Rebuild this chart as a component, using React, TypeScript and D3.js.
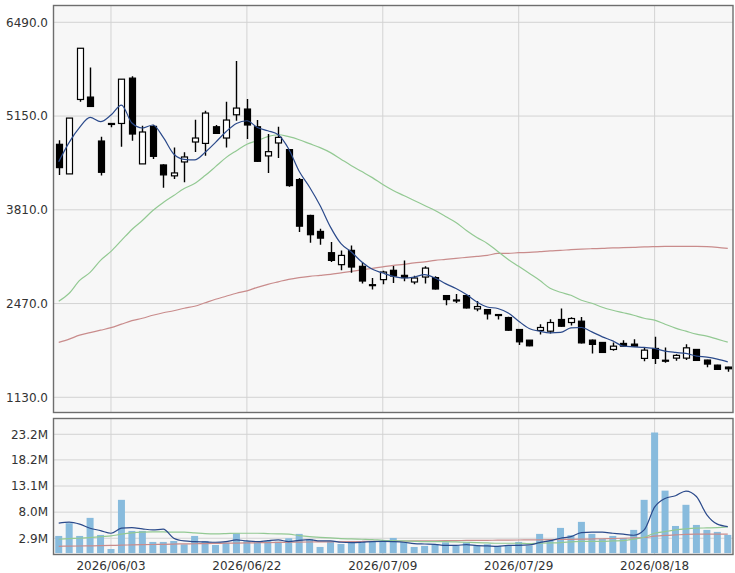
import { useRef, useEffect } from 'react';
import * as d3 from 'd3';

// trading days shown on the chart
const dates = [
  '2026/05/27', '2026/05/28', '2026/05/29', '2026/06/01', '2026/06/02', '2026/06/03', '2026/06/04', '2026/06/05',
  '2026/06/08', '2026/06/09', '2026/06/10', '2026/06/11', '2026/06/12', '2026/06/15', '2026/06/16', '2026/06/17',
  '2026/06/18', '2026/06/19', '2026/06/22', '2026/06/23', '2026/06/24', '2026/06/25', '2026/06/26', '2026/06/29',
  '2026/06/30', '2026/07/01', '2026/07/02', '2026/07/03', '2026/07/06', '2026/07/07', '2026/07/08', '2026/07/09',
  '2026/07/10', '2026/07/13', '2026/07/14', '2026/07/15', '2026/07/16', '2026/07/17', '2026/07/21', '2026/07/22',
  '2026/07/23', '2026/07/24', '2026/07/27', '2026/07/28', '2026/07/29', '2026/07/30', '2026/07/31', '2026/08/03',
  '2026/08/04', '2026/08/05', '2026/08/06', '2026/08/07', '2026/08/10', '2026/08/12', '2026/08/13', '2026/08/14',
  '2026/08/17', '2026/08/18', '2026/08/19', '2026/08/20', '2026/08/21', '2026/08/24', '2026/08/25', '2026/08/26',
  '2026/08/27',
];

const dateTicks = ['2026/06/03', '2026/06/22', '2026/07/09', '2026/07/29', '2026/08/18'];
const priceTicks = [1130, 2470, 3810, 5150, 6490];
const volumeTicks = [2.9, 8.0, 13.1, 18.2, 23.2];

const open = [
  4746, 4323, 5387, 5421, 4793, 5044, 5044, 5692, 4466, 5002, 4451, 4295, 4494, 4779, 4759, 4997, 4836, 5168, 5250, 4997,
  4580, 4765, 4670, 4242, 3729, 3501, 3197, 3026, 3230, 3002, 2735, 2812, 2945, 2873, 2778, 2849, 2841, 2584, 2515, 2584,
  2393, 2384, 2313, 2270, 2099, 1947, 2085, 2075, 2242, 2199, 2218, 1947, 1914, 1814, 1900, 1890, 1686, 1828, 1660, 1690,
  1690, 1814, 1662, 1590, 1562,
];
const high = [
  4803, 5121, 6119, 5843, 4855, 5050, 5677, 5720, 5012, 5026, 4460, 4702, 4631, 5097, 5225, 5022, 5354, 5938, 5392, 5093,
  4893, 4997, 4680, 4266, 3740, 3539, 3348, 3230, 3301, 3063, 2835, 2940, 3006, 3087, 2869, 3002, 2859, 2590, 2607, 2590,
  2507, 2390, 2318, 2280, 2105, 1950, 2175, 2246, 2399, 2275, 2279, 1955, 1920, 1914, 1947, 1961, 1837, 1994, 1843, 1747,
  1890, 1820, 1665, 1595, 1565,
];
const low = [
  4309, 4323, 5354, 5287, 4299, 4990, 4712, 4798, 4466, 4537, 4124, 4252, 4203, 4637, 4584, 4902, 4702, 5083, 4822, 4494,
  4337, 4551, 4140, 3491, 3340, 3311, 3063, 2945, 2912, 2755, 2670, 2745, 2764, 2788, 2745, 2755, 2670, 2446, 2478, 2400,
  2360, 2242, 2242, 2080, 1876, 1860, 2028, 2042, 2140, 2156, 1900, 1757, 1765, 1794, 1855, 1855, 1647, 1605, 1623, 1652,
  1662, 1650, 1558, 1525, 1495,
];
const close = [
  4413, 5121, 6119, 5287, 4346, 5044, 5677, 4893, 4922, 4574, 4309, 4337, 4565, 4836, 5193, 4902, 5093, 5264, 5022, 4503,
  4641, 4845, 4156, 3576, 3454, 3405, 3087, 3158, 2992, 2792, 2740, 2920, 2863, 2841, 2835, 2977, 2678, 2527, 2521, 2407,
  2427, 2322, 2313, 2089, 1923, 1866, 2128, 2199, 2146, 2256, 1908, 1886, 1771, 1861, 1861, 1861, 1804, 1686, 1657, 1729,
  1837, 1657, 1605, 1529, 1538,
];

// price moving averages (5 / 25 / 75 day)
const ma5 = [
  4498, 4774, 4987, 5130, 5069, 5164, 5307, 5050, 4979, 5022, 4845, 4608, 4531, 4523, 4631, 4774, 4926, 5044, 5083, 4987,
  4940, 4883, 4679, 4360, 4132, 3871, 3562, 3325, 3206, 3063, 2959, 2906, 2859, 2835, 2849, 2883, 2835, 2755, 2684, 2598,
  2493, 2421, 2399, 2336, 2218, 2114, 2075, 2051, 2057, 2122, 2128, 2065, 1994, 1937, 1861, 1851, 1843, 1828, 1790, 1771,
  1757, 1719, 1704, 1676, 1637,
];
const ma25 = [
  2503, 2617, 2802, 2916, 3087, 3215, 3372, 3529, 3657, 3800, 3914, 4014, 4114, 4185, 4299, 4427, 4556, 4655, 4748, 4798,
  4855, 4883, 4855, 4812, 4755, 4698, 4627, 4534, 4441, 4356, 4270, 4171, 4085, 4014, 3943, 3871, 3800, 3714, 3629, 3515,
  3415, 3330, 3215, 3101, 3002, 2902, 2802, 2688, 2631, 2588, 2517, 2474, 2417, 2374, 2339, 2303, 2260, 2232, 2175, 2118,
  2075, 2032, 2004, 1961, 1918,
];
const ma75 = [
  1914, 1961, 2018, 2054, 2089, 2125, 2175, 2225, 2260, 2303, 2339, 2367, 2403, 2431, 2481, 2531, 2574, 2617, 2652, 2702,
  2745, 2781, 2816, 2841, 2859, 2873, 2888, 2909, 2930, 2952, 2973, 2995, 3016, 3030, 3052, 3066, 3087, 3101, 3116, 3130,
  3144, 3158, 3187, 3187, 3197, 3201, 3211, 3223, 3230, 3240, 3248, 3254, 3258, 3265, 3268, 3273, 3280, 3284, 3287, 3287,
  3287, 3287, 3283, 3273, 3258,
];

// volume in millions of shares
const volume = [
  3.35, 5.84, 3.35, 6.88, 3.55, 0.8, 10.4, 4.33, 4.33, 2.18, 2.18, 2.37, 1.72, 3.35, 2.37, 1.59, 2.05, 3.88, 2.37, 2.05,
  2.37, 2.24, 2.9, 3.75, 2.7, 1.2, 2.24, 1.78, 2.37, 2.37, 2.24, 2.24, 2.96, 2.24, 1.2, 1.4, 1.72, 2.1, 1.59, 2.1,
  1.46, 1.72, 1.4, 1.52, 2.18, 1.46, 3.75, 2.44, 4.92, 3.49, 6.1, 3.75, 2.77, 3.35, 2.96, 4.53, 10.4, 23.55, 12.2, 5.3,
  9.43, 5.5, 4.53, 4.14, 3.55,
];
const vma5 = [
  5.85, 6.04, 5.65, 4.86, 4.39, 3.88, 4.86, 4.98, 4.73, 4.53, 4.67, 2.9, 2.37, 2.24, 2.18, 2.12, 2.24, 2.57, 2.37, 2.24,
  2.43, 2.57, 2.24, 2.5, 2.63, 2.37, 2.37, 2.12, 2.05, 2.12, 2.24, 2.3, 2.24, 2.12, 1.85, 1.78, 1.72, 1.52, 1.52, 1.65,
  1.46, 1.4, 1.33, 1.52, 1.52, 1.59, 2.04, 2.43, 2.9, 3.22, 4.0, 4.08, 4.08, 3.88, 3.69, 3.49, 4.53, 8.98, 10.67, 11.2,
  12.12, 11.06, 7.47, 5.65, 5.18,
];
const vma25 = [
  2.7, 2.83, 2.9, 3.03, 3.22, 3.35, 3.69, 3.94, 4.08, 4.14, 4.14, 4.08, 4.08, 3.94, 3.8, 3.75, 3.8, 3.88, 3.88, 3.88,
  3.8, 3.75, 3.69, 3.42, 3.22, 3.09, 2.96, 2.83, 2.77, 2.7, 2.63, 2.5, 2.43, 2.37, 2.3, 2.24, 2.24, 2.24, 2.18, 2.12,
  2.05, 1.98, 1.92, 1.92, 1.92, 1.85, 1.92, 1.98, 2.05, 2.18, 2.3, 2.3, 2.3, 2.37, 2.43, 2.7, 3.09, 3.88, 4.2, 4.53,
  4.73, 4.86, 4.92, 4.98, 5.12,
];
const vma75 = [
  1.33, 1.36, 1.39, 1.42, 1.46, 1.5, 1.55, 1.6, 1.64, 1.68, 1.72, 1.76, 1.8, 1.83, 1.86, 1.9, 1.93, 1.96, 1.99, 2.02,
  2.05, 2.08, 2.12, 2.15, 2.17, 2.19, 2.21, 2.23, 2.25, 2.27, 2.29, 2.31, 2.33, 2.35, 2.37, 2.39, 2.41, 2.43, 2.45, 2.47,
  2.48, 2.5, 2.52, 2.54, 2.56, 2.58, 2.6, 2.63, 2.66, 2.69, 2.72, 2.75, 2.8, 2.85, 2.9, 2.97, 3.05, 3.3, 3.45, 3.55,
  3.65, 3.69, 3.69, 3.69, 3.69,
];

const WIDTH = 735;
const HEIGHT = 573;
const FONT = "'DejaVu Sans', Verdana, sans-serif";
const BLUE = '#2b4a8b';
const GREEN = '#93c993';
const RED = '#c98c8c';

export default function App() {
  const svgRef = useRef<SVGSVGElement>(null);

  useEffect(() => {
    const svg = d3.select(svgRef.current);
    svg.selectAll('*').remove();

    const left = 53.5;
    const right = 733;
    const main = { top: 5.5, bottom: 412.5 };
    const vol = { top: 418.5, bottom: 554.5 };

    const x = d3.scaleBand<string>().domain(dates).range([left, right]).paddingInner(0).paddingOuter(0);
    const cx = (i: number) => (x(dates[i]) as number) + x.bandwidth() / 2;
    const y = d3.scaleLinear().domain([1130, 6490]).range([397.3, 22.3]);
    const yv = d3.scaleLinear().domain([0, 23.2]).range([553.1, 434.3]);

    // panel backgrounds
    [main, vol].forEach((p) => {
      svg.append('rect')
        .attr('x', left)
        .attr('y', p.top)
        .attr('width', right - left)
        .attr('height', p.bottom - p.top)
        .attr('fill', '#f7f7f7');
    });

    const defs = svg.append('defs');
    defs.append('clipPath').attr('id', 'clip-main').append('rect')
      .attr('x', left).attr('y', main.top).attr('width', right - left).attr('height', main.bottom - main.top);
    defs.append('clipPath').attr('id', 'clip-vol').append('rect')
      .attr('x', left).attr('y', vol.top).attr('width', right - left).attr('height', vol.bottom - vol.top);

    // grid
    const grid = svg.append('g').attr('stroke', '#d3d3d3').attr('stroke-width', 1);
    dateTicks.forEach((d) => {
      const xi = cx(dates.indexOf(d));
      [main, vol].forEach((p) => {
        grid.append('line').attr('x1', xi).attr('x2', xi).attr('y1', p.top).attr('y2', p.bottom);
      });
    });
    priceTicks.forEach((t) => {
      grid.append('line').attr('x1', left).attr('x2', right).attr('y1', y(t)).attr('y2', y(t));
    });
    volumeTicks.forEach((t) => {
      grid.append('line').attr('x1', left).attr('x2', right).attr('y1', yv(t)).attr('y2', yv(t));
    });

    // volume bars
    const barW = 7;
    const gv = svg.append('g').attr('clip-path', 'url(#clip-vol)');
    gv.selectAll('.vbar')
      .data(volume)
      .join('rect')
      .attr('class', 'vbar')
      .attr('x', (_d, i) => cx(i) - barW / 2)
      .attr('y', (d) => yv(d))
      .attr('width', barW)
      .attr('height', (d) => yv(0) - yv(d))
      .attr('fill', '#88bbdd');

    const vLine = (vals: number[]) =>
      d3.line<number>().x((_d, i) => cx(i)).y((d) => yv(d)).curve(d3.curveMonotoneX)(vals);
    [
      { vals: vma75, color: RED },
      { vals: vma25, color: GREEN },
      { vals: vma5, color: BLUE },
    ].forEach((s) => {
      gv.append('path').attr('d', vLine(s.vals)).attr('fill', 'none')
        .attr('stroke', s.color).attr('stroke-width', 1.2);
    });

    // price moving averages
    const gm = svg.append('g').attr('clip-path', 'url(#clip-main)');
    const pLine = (vals: number[]) =>
      d3.line<number>().x((_d, i) => cx(i)).y((d) => y(d)).curve(d3.curveMonotoneX)(vals);
    [
      { vals: ma75, color: RED },
      { vals: ma25, color: GREEN },
    ].forEach((s) => {
      gm.append('path').attr('d', pLine(s.vals)).attr('fill', 'none')
        .attr('stroke', s.color).attr('stroke-width', 1.2);
    });

    // candlesticks
    const bodyW = 6;
    const candles = gm.selectAll('.candle')
      .data(dates.map((_d, i) => i))
      .join('g')
      .attr('class', 'candle');
    candles.append('line')
      .attr('x1', (i) => Math.round(cx(i)) + 0.5)
      .attr('x2', (i) => Math.round(cx(i)) + 0.5)
      .attr('y1', (i) => y(high[i]))
      .attr('y2', (i) => y(low[i]))
      .attr('stroke', '#000')
      .attr('stroke-width', 1.4);
    candles.append('rect')
      .attr('x', (i) => Math.round(cx(i)) + 0.5 - bodyW / 2)
      .attr('y', (i) => y(Math.max(open[i], close[i])))
      .attr('width', bodyW)
      .attr('height', (i) => Math.max(1, Math.abs(y(open[i]) - y(close[i]))))
      .attr('fill', (i) => (close[i] >= open[i] ? '#fff' : '#000'))
      .attr('stroke', '#000')
      .attr('stroke-width', 1.2);

    gm.append('path').attr('d', pLine(ma5)).attr('fill', 'none')
      .attr('stroke', BLUE).attr('stroke-width', 1.2);

    // frames
    [main, vol].forEach((p) => {
      svg.append('rect')
        .attr('x', left)
        .attr('y', p.top)
        .attr('width', right - left)
        .attr('height', p.bottom - p.top)
        .attr('fill', 'none')
        .attr('stroke', '#6e6e6e')
        .attr('stroke-width', 1.4);
    });

    // axis labels
    const labels = svg.append('g')
      .attr('font-family', FONT)
      .attr('font-size', '12px')
      .attr('fill', '#333');
    priceTicks.forEach((t) => {
      labels.append('text')
        .attr('x', 48)
        .attr('y', y(t))
        .attr('dy', '0.36em')
        .attr('text-anchor', 'end')
        .text(t.toFixed(1));
    });
    volumeTicks.forEach((t) => {
      labels.append('text')
        .attr('x', 48)
        .attr('y', yv(t))
        .attr('dy', '0.36em')
        .attr('text-anchor', 'end')
        .text(`${t.toFixed(1)}M`);
    });
    dateTicks.forEach((d) => {
      labels.append('text')
        .attr('x', cx(dates.indexOf(d)))
        .attr('y', 570)
        .attr('text-anchor', 'middle')
        .text(d);
    });
  }, []);

  return (
    <svg
      ref={svgRef}
      width={WIDTH}
      height={HEIGHT}
      viewBox={`0 0 ${WIDTH} ${HEIGHT}`}
      style={{ position: 'absolute', left: 0, top: 0, background: '#fff' }}
    />
  );
}
